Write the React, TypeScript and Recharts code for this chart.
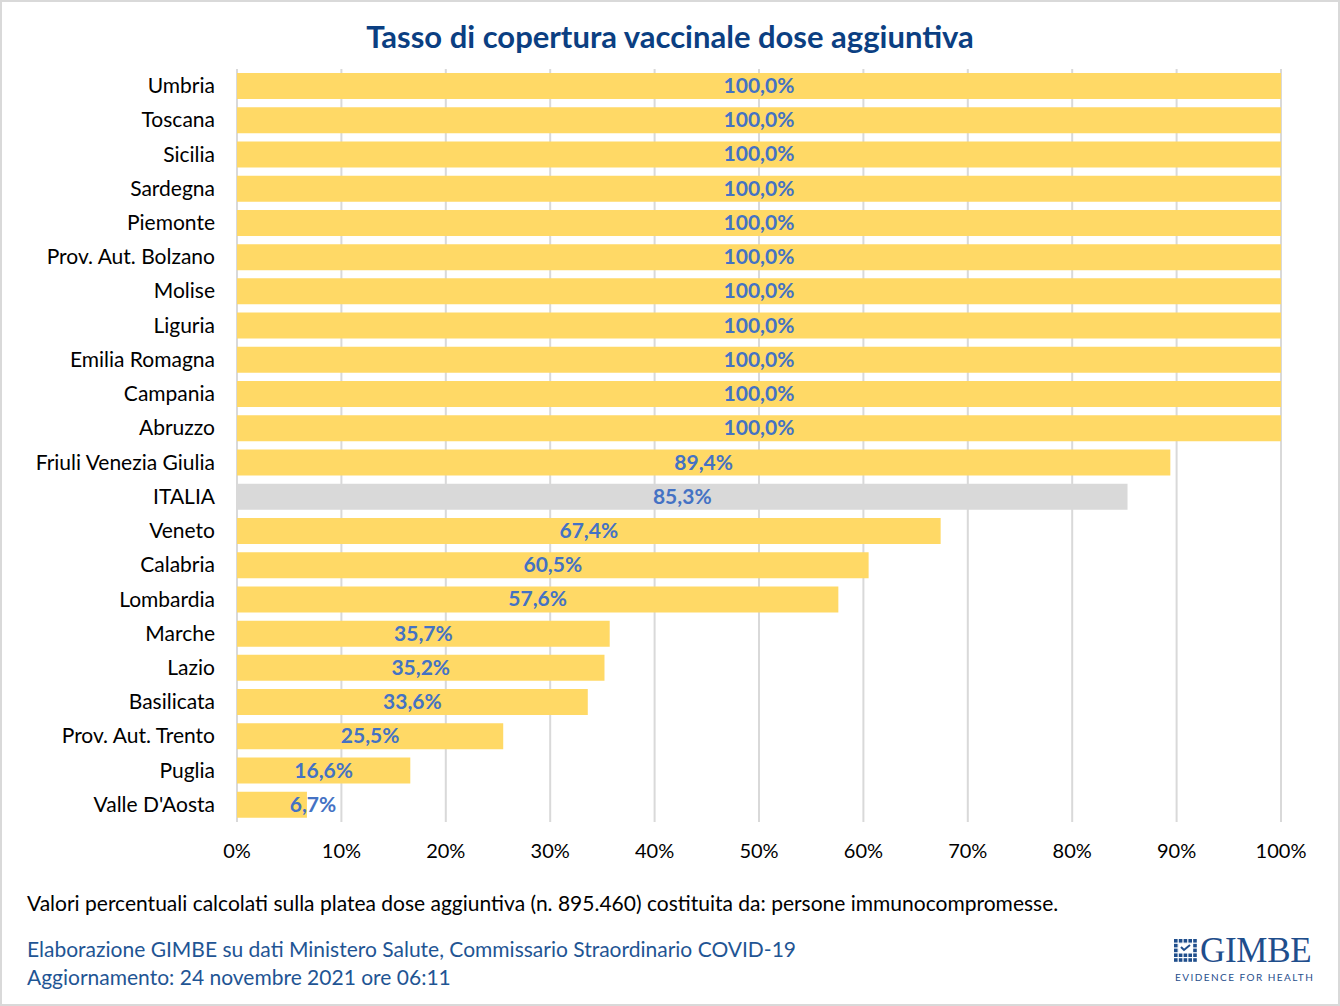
import React from 'react';
import { BarChart, Bar, XAxis, YAxis, CartesianGrid, Cell, LabelList } from 'recharts';

const regions = [
  'Umbria', 'Toscana', 'Sicilia', 'Sardegna', 'Piemonte', 'Prov. Aut. Bolzano', 'Molise',
  'Liguria', 'Emilia Romagna', 'Campania', 'Abruzzo', 'Friuli Venezia Giulia', 'ITALIA',
  'Veneto', 'Calabria', 'Lombardia', 'Marche', 'Lazio', 'Basilicata', 'Prov. Aut. Trento',
  'Puglia', "Valle D'Aosta",
];
const coverage = [
  100, 100, 100, 100, 100, 100, 100, 100, 100, 100, 100, 89.4, 85.3,
  67.4, 60.5, 57.6, 35.7, 35.2, 33.6, 25.5, 16.6, 6.7,
];
const xTicks = [0, 10, 20, 30, 40, 50, 60, 70, 80, 90, 100];

const data = regions.map((name, i) => ({ name, value: coverage[i] }));

const FONT = 'Lato, "Open Sans", sans-serif';
const YELLOW = '#FFD966';
const GREY = '#D9D9D9';
const LABEL_BLUE = '#4472C4';
const DARK_BLUE = '#0B3F82';

const fmt = (v: number) => v.toFixed(1).replace('.', ',') + '%';

function RegionTick({ x, y, payload }: any) {
  return (
    <text x={x - 14} y={y} dy={7} textAnchor="end" fontSize={21} fill="#000" fontFamily={FONT}>
      {payload.value}
    </text>
  );
}

function ValueLabel({ x, y, width, height, value }: any) {
  // Excel nudges the label right when the bar is very short
  const cx = width < 100 ? x + width + 6 : x + width / 2;
  return (
    <text x={cx} y={y + height / 2} dy={7} textAnchor="middle" fontSize={21} fontWeight={700}
      fill={LABEL_BLUE} fontFamily={FONT}>
      {fmt(value)}
    </text>
  );
}

function GimbeLogo() {
  const cells = [];
  for (let r = 0; r < 5; r++) {
    for (let c = 0; c < 5; c++) {
      cells.push(<rect key={r + '-' + c} x={c * 4.8} y={r * 4.8} width={3.6} height={3.6} fill="#1F4E8C" />);
    }
  }
  return (
    <div style={{ position: 'absolute', left: 1172, top: 934, width: 145, height: 48 }}>
      <svg width={24} height={24} style={{ position: 'absolute', left: 0, top: 3 }}>
        {cells}
        <rect x={4.4} y={4.4} width={14.6} height={9.8} fill="#fff" />
        <polyline points="7,8 10,11 16,6" fill="none" stroke="#1F4E8C" strokeWidth={2} />
      </svg>
      <div style={{ position: 'absolute', left: 26, top: 0, lineHeight: '30px', height: 30, fontFamily: '"Liberation Serif", serif', fontSize: 35, color: '#1F4E8C', letterSpacing: -0.3 }}>
        GIMBE
      </div>
      <div style={{ position: 'absolute', left: 1, top: 36, lineHeight: '11px', fontFamily: FONT, fontSize: 10, color: '#1F4E8C', letterSpacing: 1.45, whiteSpace: 'nowrap' }}>
        EVIDENCE FOR HEALTH
      </div>
    </div>
  );
}

export default function App() {
  return (
    <div style={{ position: 'absolute', left: 0, top: 0, width: 1340, height: 1006, background: '#fff', border: '2px solid #D9D9D9', boxSizing: 'border-box', fontFamily: FONT }}>
      <div style={{ position: 'absolute', left: 0, top: 0 }}>
        <BarChart width={1336} height={868} data={data} layout="vertical" barSize={26}
          margin={{ top: 67, right: 57, left: 0, bottom: 0 }}>
          <CartesianGrid horizontal={false} stroke={GREY} strokeWidth={2} />
          <XAxis type="number" domain={[0, 100]} ticks={xTicks} tickFormatter={(v) => v + '%'}
            axisLine={false} tickLine={false} height={48} tickMargin={16}
            tick={{ fill: '#000', fontSize: 20, fontFamily: FONT }} interval={0} />
          <YAxis type="category" dataKey="name" width={235} axisLine={false} tickLine={false}
            tick={<RegionTick />} interval={0} />
          <Bar dataKey="value" isAnimationActive={false}>
            {data.map((d) => (
              <Cell key={d.name} fill={d.name === 'ITALIA' ? GREY : YELLOW} />
            ))}
            <LabelList dataKey="value" content={<ValueLabel />} />
          </Bar>
        </BarChart>
      </div>
      <div style={{ position: 'absolute', left: 0, width: 1336, top: 15, textAlign: 'center', fontSize: 31, fontWeight: 700, color: DARK_BLUE }}>
        Tasso di copertura vaccinale dose aggiuntiva
      </div>
      <div style={{ position: 'absolute', left: 25, top: 888, fontSize: 21, color: '#000', whiteSpace: 'nowrap' }}>
        Valori percentuali calcolati sulla platea dose aggiuntiva (n. 895.460) costituita da: persone immunocompromesse.
      </div>
      <div style={{ position: 'absolute', left: 25, top: 933, fontSize: 21, color: '#1F5594', whiteSpace: 'nowrap', lineHeight: '28px' }}>
        <div>Elaborazione GIMBE su dati Ministero Salute, Commissario Straordinario COVID-19</div>
        <div>Aggiornamento: 24 novembre 2021 ore 06:11</div>
      </div>
      <GimbeLogo />
    </div>
  );
}
